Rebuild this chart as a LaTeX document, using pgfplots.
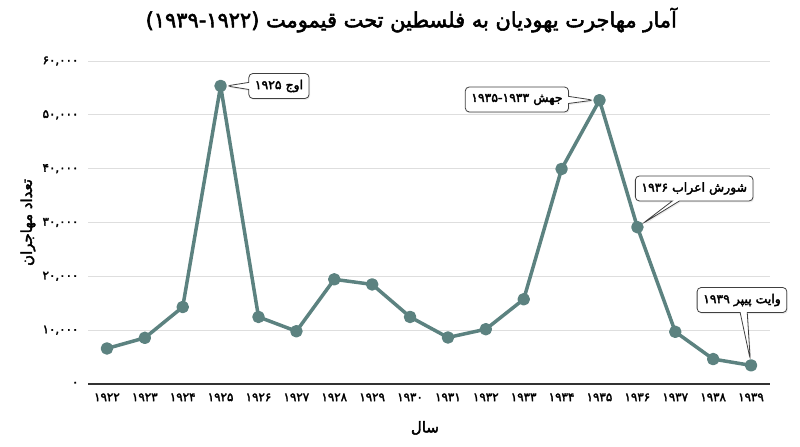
\documentclass[border=0pt]{standalone}
\usepackage{pgfplots}
\pgfplotsset{compat=1.18}
\usepackage{fontspec}
\usetikzlibrary{shapes.callouts,shadows}
\TeXXeTstate=1
\newfontfamily\arabicfont[Script=Arabic, BoldFont=DejaVu Sans, BoldFeatures={FakeBold=2.6}]{DejaVu Sans}
\definecolor{linecol}{RGB}{92,130,128}
\definecolor{gridcol}{RGB}{222,222,222}

\tikzset{
  note/.style={rectangle callout, draw=black!75, line width=0.8bp, fill=white,
    rounded corners=4bp, inner xsep=6bp, inner ysep=4bp, minimum height=25bp,
    font=\arabicfont\bfseries\fontsize{12.5}{14}\selectfont,
    callout pointer shorten=6bp,
    drop shadow={opacity=0.15, shadow xshift=1bp, shadow yshift=-1.5bp}},
}

\begin{document}
\begin{tikzpicture}
\path[use as bounding box] (0,0) rectangle (800bp,447bp);
\begin{axis}[
  at={(88bp,63bp)}, anchor=south west,
  scale only axis, width=682bp, height=323bp,
  xmin=1921.5, xmax=1939.5, ymin=0, ymax=60000,
  scaled y ticks=false,
  axis x line*=bottom, axis y line*=left,
  y axis line style={draw=none},
  x axis line style={-, draw=black!80, line width=1.3bp},
  major tick length=0pt,
  ymajorgrids, grid style={gridcol, line width=0.8bp},
  xtick={1922,...,1939},
  xticklabels={۱۹۲۲,۱۹۲۳,۱۹۲۴,۱۹۲۵,۱۹۲۶,۱۹۲۷,۱۹۲۸,۱۹۲۹,۱۹۳۰,۱۹۳۱,۱۹۳۲,۱۹۳۳,۱۹۳۴,۱۹۳۵,۱۹۳۶,۱۹۳۷,۱۹۳۸,۱۹۳۹},
  ytick={0,10000,...,60000},
  yticklabels={۰,{۱۰,۰۰۰},{۲۰,۰۰۰},{۳۰,۰۰۰},{۴۰,۰۰۰},{۵۰,۰۰۰},{۶۰,۰۰۰}},
  ticklabel style={font=\arabicfont\bfseries\fontsize{12}{12}\selectfont, text=black},
  yticklabel style={anchor=east, xshift=-6bp},
  xticklabel style={anchor=north, yshift=-6bp},
  title={\beginR آمار مهاجرت یهودیان به فلسطین تحت قیمومت (۱۹۳۹-۱۹۲۲)\endR},
  title style={at={(0.474,1)}, anchor=center, yshift=35bp,
    font=\arabicfont\bfseries\fontsize{21}{24}\selectfont},
  xlabel={\beginR سال\endR},
  ylabel={\beginR تعداد مهاجران\endR},
  every axis x label/.style={at={(axis description cs:0.494,-0.136)}, anchor=center,
    font=\arabicfont\bfseries\fontsize{15}{17}\selectfont},
  every axis y label/.style={at={(axis description cs:-0.088,0.5)}, anchor=center, rotate=90,
    font=\arabicfont\bfseries\fontsize{15}{17}\selectfont},
  clip=false,
]
\addplot[linecol, line width=3.5bp, line join=round, mark=*, mark size=4.5bp,
  mark options={fill=linecol, draw=linecol}] coordinates {
  (1922,6600) (1923,8570) (1924,14300) (1925,55370) (1926,12460)
  (1927,9800) (1928,19440) (1929,18500) (1930,12460) (1931,8640)
  (1932,10180) (1933,15740) (1934,39950) (1935,52720) (1936,29130)
  (1937,9690) (1938,4630) (1939,3460)
};
\node[note, callout absolute pointer={(axis cs:1925,55370)}]
  at (axis cs:1926.54,55360) {\beginR اوج ۱۹۲۵\endR};
\node[note, callout absolute pointer={(axis cs:1935,52720)}]
  at (axis cs:1932.82,52850) {\beginR جهش ۱۹۳۵-۱۹۳۳\endR};
\node[note, callout absolute pointer={(axis cs:1936,29130)}]
  at (axis cs:1937.50,36320) {\beginR شورش اعراب ۱۹۳۶\endR};
\node[note, callout absolute pointer={(axis cs:1939,3460)}]
  at (axis cs:1938.76,15600) {\beginR وایت پیپر ۱۹۳۹\endR};
\end{axis}
\end{tikzpicture}
\end{document}
